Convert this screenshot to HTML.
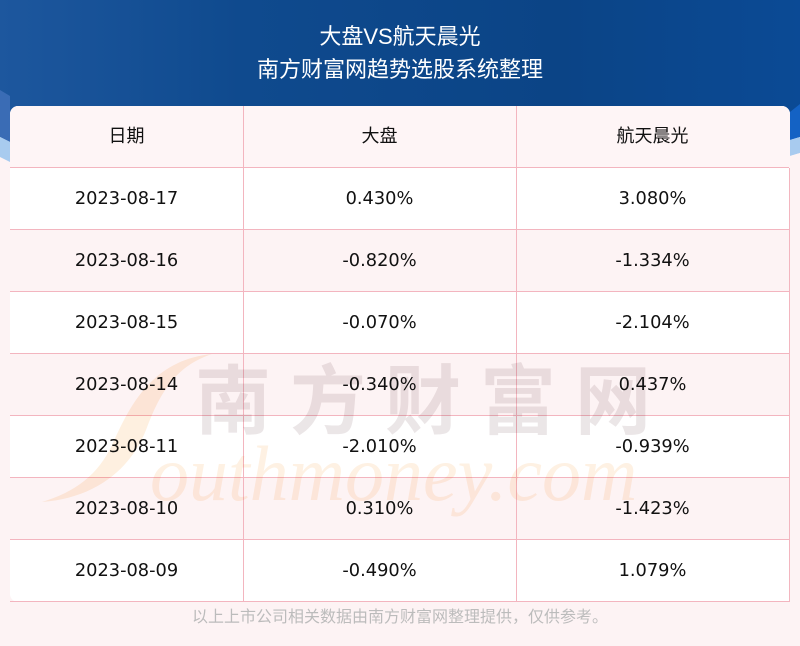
<!DOCTYPE html>
<html>
<head>
<meta charset="utf-8">
<style>
  html,body{margin:0;padding:0;}
  body{width:800px;height:646px;position:relative;overflow:hidden;background:#fdf3f4;font-family:"DejaVu Sans","Liberation Sans","Noto Sans CJK SC",sans-serif;}
  .bg{position:absolute;left:0;top:0;}
  .title{position:absolute;left:0;width:800px;text-align:center;color:#fff;font-family:"Liberation Sans","Noto Sans CJK SC",sans-serif;font-size:22px;line-height:30px;}
  .tbl{position:absolute;left:10px;top:106px;width:780px;height:496px;}
  .row{position:absolute;left:0;width:779px;height:61px;border-bottom:1px solid #f3b5bf;border-right:1px solid #f3b5bf;}
  .cell{position:absolute;top:0;height:61px;line-height:61px;text-align:center;color:#111;font-size:17.8px;}
  .c1{left:0;width:233px;}
  .c2{left:233px;width:273px;}
  .c3{left:506px;width:273px;}
  .hd .cell{font-family:"Liberation Sans","Noto Sans CJK SC",sans-serif;font-size:18px;}
  .vl{position:absolute;top:0;width:1px;height:496px;background:#f3b5bf;}
  .wm{position:absolute;left:0;top:0;mix-blend-mode:multiply;}
  .foot{position:absolute;left:0;top:606px;width:800px;text-align:center;color:#bcbcbc;font-family:"Liberation Sans","Noto Sans CJK SC",sans-serif;font-size:16px;line-height:24px;}
</style>
</head>
<body>
<svg class="bg" width="800" height="170" viewBox="0 0 800 170">
  <defs>
    <linearGradient id="g1" x1="0" y1="0" x2="1" y2="0">
      <stop offset="0" stop-color="#1d579e"/>
      <stop offset="0.3" stop-color="#0f4a8e"/>
      <stop offset="0.7" stop-color="#0b4486"/>
      <stop offset="1" stop-color="#0b4a95"/>
    </linearGradient>
  </defs>
  <rect x="0" y="0" width="800" height="170" fill="#fdf3f4"/>
  <rect x="0" y="0" width="800" height="125" fill="url(#g1)"/>
  <path d="M0 90 L10 96 V142 L0 137 Z" fill="#3a6cb5"/>
  <path d="M0 137 L10 142 V170 L0 170 Z" fill="#a8cbef"/>
  <path d="M0 157 L10 162 V170 L0 170 Z" fill="#fdf3f4"/>
  <path d="M790 112 L800 104 V137 L790 140 Z" fill="#1462c4"/>
  <path d="M790 140 L800 137 V153 L790 156 Z" fill="#a8cbef"/>
  <path d="M790 156 L800 153 V170 L790 170 Z" fill="#fdf3f4"/>
</svg>

<div class="title" style="top:22px;">大盘VS航天晨光</div>
<div class="title" style="top:55px;">南方财富网趋势选股系统整理</div>

<div class="tbl">
  <div style="position:absolute;left:0;top:0;width:780px;height:496px;background:#fff;border-radius:8px 8px 0 8px;overflow:hidden;">
    <div style="position:absolute;left:0;top:0;width:780px;height:62px;background:#fef5f6;"></div>
    <div style="position:absolute;left:0;top:124px;width:780px;height:62px;background:#fdf3f4;"></div>
    <div style="position:absolute;left:0;top:248px;width:780px;height:62px;background:#fdf3f4;"></div>
    <div style="position:absolute;left:0;top:372px;width:780px;height:62px;background:#fdf3f4;"></div>
  </div>
  <div class="vl" style="left:233px;"></div>
  <div class="vl" style="left:506px;"></div>

  <div class="row hd" style="top:0;border-right:none;">
    <div class="cell c1">日期</div><div class="cell c2">大盘</div><div class="cell c3">航天晨光</div>
  </div>
  <div class="row" style="top:62px;">
    <div class="cell c1">2023-08-17</div><div class="cell c2">0.430%</div><div class="cell c3">3.080%</div>
  </div>
  <div class="row" style="top:124px;">
    <div class="cell c1">2023-08-16</div><div class="cell c2">-0.820%</div><div class="cell c3">-1.334%</div>
  </div>
  <div class="row" style="top:186px;">
    <div class="cell c1">2023-08-15</div><div class="cell c2">-0.070%</div><div class="cell c3">-2.104%</div>
  </div>
  <div class="row" style="top:248px;">
    <div class="cell c1">2023-08-14</div><div class="cell c2">-0.340%</div><div class="cell c3">0.437%</div>
  </div>
  <div class="row" style="top:310px;">
    <div class="cell c1">2023-08-11</div><div class="cell c2">-2.010%</div><div class="cell c3">-0.939%</div>
  </div>
  <div class="row" style="top:372px;">
    <div class="cell c1">2023-08-10</div><div class="cell c2">0.310%</div><div class="cell c3">-1.423%</div>
  </div>
  <div class="row" style="top:434px;">
    <div class="cell c1">2023-08-09</div><div class="cell c2">-0.490%</div><div class="cell c3">1.079%</div>
  </div>
</div>

<svg class="wm" width="800" height="646" viewBox="0 0 800 646">
  <path d="M212 354 C150 360 128 410 112 445 C98 475 75 492 42 502 C95 498 130 470 146 430 C160 392 176 366 212 354 Z" fill="#fef0e0"/>
  <text x="195" y="428" font-family="Noto Sans CJK SC, sans-serif" font-weight="bold" font-size="76" letter-spacing="19" fill="#ebe6e7">南方财富网</text>
  <text x="150" y="500" font-family="Liberation Serif, serif" font-style="italic" font-size="78" fill="#fef1e3">outhmoney.com</text>
</svg>

<div class="foot">以上上市公司相关数据由南方财富网整理提供，仅供参考。</div>
</body>
</html>
